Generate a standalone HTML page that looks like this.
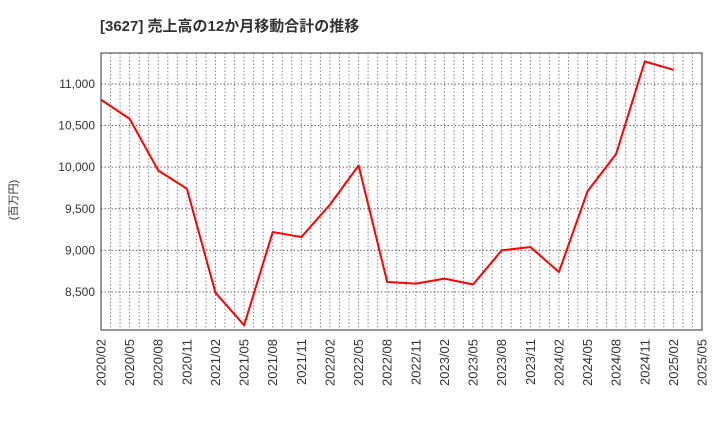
<!DOCTYPE html>
<html><head><meta charset="utf-8"><style>
body{margin:0;background:#fff;font-family:"Liberation Sans","Noto Sans CJK JP",sans-serif}
svg text{font-family:"Liberation Sans","Noto Sans CJK JP",sans-serif}
</style></head><body>
<svg id="c" width="720" height="440" xmlns="http://www.w3.org/2000/svg">
<text x="100" y="31" font-size="15" font-weight="bold" fill="#333">[3627]  売上高の12か月移動合計の推移</text>
<text transform="translate(17,200) rotate(-90)" font-size="11" fill="#333" text-anchor="middle">(百万円)</text>
<g id="grid"></g><g id="axes"></g><g id="plot"></g>
</svg>
<script>
const categories=["2020/02","2020/05","2020/08","2020/11","2021/02","2021/05","2021/08","2021/11","2022/02","2022/05","2022/08","2022/11","2023/02","2023/05","2023/08","2023/11","2024/02","2024/05","2024/08","2024/11","2025/02"];
const values=[10810,10580,9960,9740,8490,8100,9220,9160,9550,10020,8620,8600,8660,8590,9000,9040,8740,9710,10160,11270,11170];
const xTickLabels=["2020/02","2020/05","2020/08","2020/11","2021/02","2021/05","2021/08","2021/11","2022/02","2022/05","2022/08","2022/11","2023/02","2023/05","2023/08","2023/11","2024/02","2024/05","2024/08","2024/11","2025/02","2025/05"];
const yTicks=[8500,9000,9500,10000,10500,11000];
const L=101,R=702,T=53,B=330,yMin=8043,yMax=11372;
const NS="http://www.w3.org/2000/svg";
const x=i=>L+(R-L)*i/(xTickLabels.length-1);
const y=v=>B-(v-yMin)/(yMax-yMin)*(B-T);
function mk(p,t,a){const e=document.createElementNS(NS,t);for(const k in a)e.setAttribute(k,a[k]);p.appendChild(e);return e;}
const g=document.getElementById('grid'),ax=document.getElementById('axes'),pl=document.getElementById('plot');
const nMonths=(xTickLabels.length-1)*3;
for(let m=1;m<nMonths;m++){const xx=L+(R-L)*m/nMonths;
const ln=mk(g,'line',{x1:xx,x2:xx,y1:T,y2:B,stroke:'#888','stroke-dasharray':'1.5,2','stroke-width':1});

}
yTicks.forEach(v=>{const ln=mk(g,'line',{x1:L,x2:R,y1:y(v),y2:y(v),stroke:'#666','stroke-dasharray':'1.5,2','stroke-width':1});


const t=mk(ax,'text',{x:L-6,y:y(v)+4,'font-size':12,fill:'#333','text-anchor':'end'});t.textContent=v.toLocaleString('en-US');

});
xTickLabels.forEach((s,i)=>{const t=mk(ax,'text',{transform:`translate(${x(i)+4.5},${B+9}) rotate(-90)`,'font-size':13,fill:'#333','text-anchor':'end'});t.textContent=s;

});
const fr=mk(ax,'rect',{x:L,y:T,width:R-L,height:B-T,fill:'none',stroke:'#333','stroke-width':1});


const pts=values.map((v,i)=>x(i)+','+y(v)).join(' ');
const line=mk(pl,'polyline',{points:pts,fill:'none',stroke:'#ff0000','stroke-width':2,'stroke-linejoin':'round'});


</script>
</body></html>
